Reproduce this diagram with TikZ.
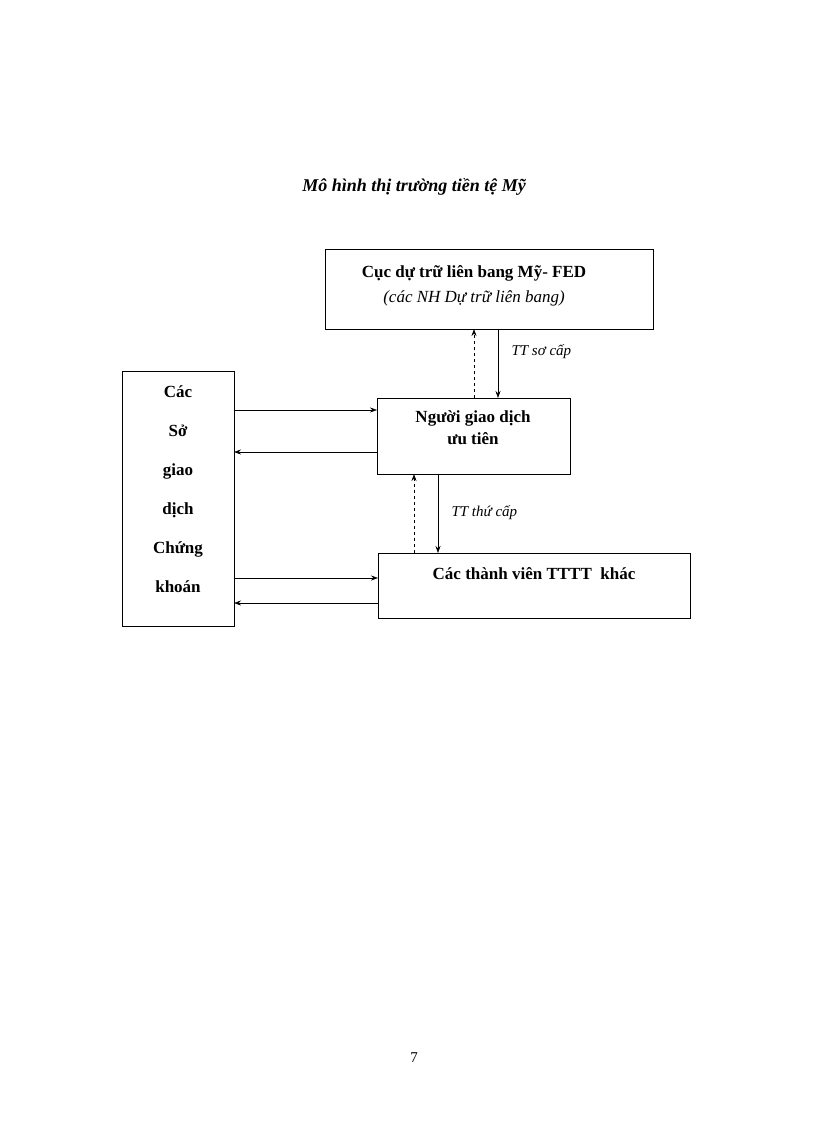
\documentclass[tikz,border=0pt]{standalone}
\usepackage{fontspec}
\setmainfont{Liberation Serif}
\usetikzlibrary{arrows.meta}
\begin{document}
\begin{tikzpicture}[x=1pt,y=-1pt,
  box/.style={draw,line width=0.8pt,inner sep=0pt},
  lbl/.style={font=\fontsize{17}{20}\selectfont\bfseries,align=center},
  arr/.style={-{Stealth[length=7pt,width=5pt]},line width=0.6pt},
  lab/.style={font=\fontsize{15}{18}\selectfont\itshape,anchor=west}]
\useasboundingbox (0,0) rectangle (816,1123);
\node[font=\fontsize{18}{22}\selectfont\bfseries\itshape] (title) at (414,187) {Mô hình thị trường tiền tệ Mỹ};
\draw[box] (325,249) rectangle (653,329);
\coordinate (fedb) at (489,329);
\node[lbl] (fed) at (474,273) {Cục dự trữ liên bang Mỹ- FED};
\node[font=\fontsize{17}{20}\selectfont\itshape] (fed2) at (474,298) {(các NH Dự trữ liên bang)};
\draw[box] (122,371) rectangle (234,626);
\node[lbl,font=\fontsize{17}{39}\selectfont\bfseries] (so) at (178,489) {Các\\Sở\\giao\\dịch\\Chứng\\khoán};
\draw[box] (377,398) rectangle (570,474);
\node[lbl,font=\fontsize{17}{22}\selectfont\bfseries] (ng) at (473,428) {Người giao dịch\\ưu tiên};
\draw[box] (378,553) rectangle (690,618);
\node[lbl] (tv) at (534,574) {Các thành viên TTTT\ \ khác};
\coordinate (a1) at (474,398); \coordinate (a2) at (474,329);
\coordinate (b1) at (498,329); \coordinate (b2) at (498,398);
\draw[arr,dashed] (a1) -- (a2);
\draw[arr] (b1) -- (b2);
\node[lab] (l1) at (508,352) {TT sơ cấp};
\coordinate (c1) at (414,553); \coordinate (c2) at (414,474);
\coordinate (d1) at (438,474); \coordinate (d2) at (438,553);
\draw[arr,dashed] (c1) -- (c2);
\draw[arr] (d1) -- (d2);
\node[lab] (l2) at (448,513) {TT thứ cấp};
\coordinate (e1) at (234,410); \coordinate (e2) at (377,410);
\coordinate (f1) at (377,452); \coordinate (f2) at (234,452);
\coordinate (g1) at (234,578); \coordinate (g2) at (378,578);
\coordinate (h1) at (378,603); \coordinate (h2) at (234,603);
\draw[arr] (e1) -- (e2);
\draw[arr] (f1) -- (f2);
\draw[arr] (g1) -- (g2);
\draw[arr] (h1) -- (h2);
\node[font=\fontsize{15}{18}\selectfont] (pg) at (414,1058) {7};
\end{tikzpicture}
\end{document}
